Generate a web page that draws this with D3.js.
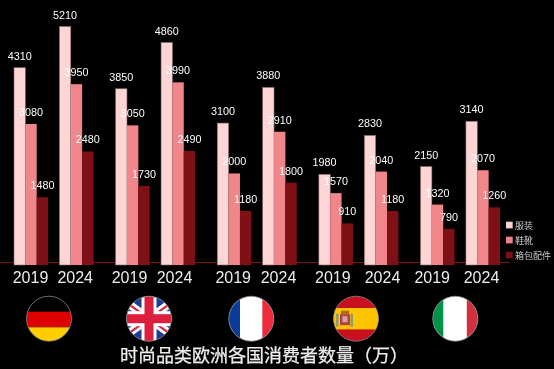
<!DOCTYPE html>
<html>
<head>
<meta charset="utf-8">
<script src="https://cdnjs.cloudflare.com/ajax/libs/d3/7.8.5/d3.min.js"></script>
<style>
  html, body { margin: 0; padding: 0; background: #000; overflow: hidden; }
  svg { display: block; }
  /* own layer, so the text gets plain grey antialiasing */
  .labels { opacity: 0.99; will-change: opacity; }
</style>
</head>
<body>
<div id="container"></div>
<script>
/* DATA */
const countries = ["德国", "英国", "法国", "西班牙", "意大利"];
const years = ["2019", "2024"];
const seriesNames = ["服装", "鞋靴", "箱包配件"];
// one row per country + year, in reading order
const clothing = [4310, 5210, 3850, 4860, 3100, 3880, 1980, 2830, 2150, 3140];
const shoes = [3080, 3950, 3050, 3990, 2000, 2910, 1570, 2040, 1320, 2070];
const bags = [1480, 2480, 1730, 2490, 1180, 1800, 910, 1180, 790, 1260];
const title = "时尚品类欧洲各国消费者数量（万）";

/* CONSTANTS */
const width = 554,
  height = 369,
  baseline = 265,
  flagR = 22.5,
  flagY = 318.7,
  sans = "'Liberation Sans', Arial, sans-serif",
  cjk = "'Noto Sans CJK SC', sans-serif";

const colors = ["#fdd5d5", "#f0858a", "#7f1015"];
// the year labels were placed by hand in the original, they drift from the bars
const yearLabelX = [30, 74.7, 129, 174, 232.7, 278, 332.3, 382, 431.7, 481];
const flagX = [49, 149, 251.3, 356, 455.3];

const svg = d3.select("#container")
  .append("svg")
  .attr("width", width)
  .attr("height", height)
  .style("background-color", "#000");

/* SCALES */
const countryScale = d3.scaleBand()
  .domain(countries)
  .range([14, 500])
  .paddingInner(0.2177);

const yearScale = d3.scaleBand()
  .domain(years)
  .range([0, countryScale.bandwidth()])
  .paddingInner(0.25);

const seriesScale = d3.scaleBand()
  .domain(seriesNames)
  .range([0, yearScale.bandwidth()]);

const yScale = d3.scaleLinear()
  .domain([0, 5210])
  .range([baseline, 26.5]);

const seriesValues = [clothing, shoes, bags];

const rows = [];
countries.forEach((c, i) => {
  years.forEach((y, j) => {
    seriesNames.forEach((s, k) => {
      rows.push({ country: c, year: y, series: s, k, value: seriesValues[k][i * 2 + j] });
    });
  });
});
const barX = d => countryScale(d.country) + yearScale(d.year) + seriesScale(d.series);

/* BASE LINE */
svg.append("line")
  .attr("x1", 0)
  .attr("x2", 510)
  .attr("y1", 262.5)
  .attr("y2", 262.5)
  .attr("stroke", "#7f1015")
  .attr("stroke-width", 1);

/* BARS */
svg.selectAll(".bar")
  .data(rows)
  .join("rect")
  .attr("class", "bar")
  .attr("x", barX)
  .attr("y", d => yScale(d.value))
  .attr("width", seriesScale.bandwidth())
  .attr("height", d => baseline - yScale(d.value))
  .attr("fill", d => colors[d.k])
  .attr("stroke", d => d.k === 0 ? "#8a6c6c" : "none")
  .attr("stroke-width", 0.6);

const labels = svg.append("g").attr("class", "labels");

/* VALUE LABELS */
labels.selectAll(".value")
  .data(rows)
  .join("text")
  .attr("class", "value")
  .attr("x", d => barX(d) + seriesScale.bandwidth() / 2)
  .attr("y", d => yScale(d.value) - 8)
  .attr("text-anchor", "middle")
  .attr("font-family", sans)
  .attr("font-size", 10.8)
  .attr("fill", "#fff")
  .text(d => d.value);

/* YEAR AXIS */
const labelScale = d3.scaleOrdinal()
  .domain(d3.range(yearLabelX.length))
  .range(yearLabelX);

const yearAxis = labels.append("g")
  .attr("class", "x-axis")
  .call(d3.axisBottom(labelScale).tickSize(0).tickFormat(i => years[i % 2]));
yearAxis.select(".domain").remove();
yearAxis.selectAll("text")
  .attr("y", 283)
  .attr("dy", 0)
  .attr("font-family", sans)
  .attr("font-size", 16)
  .attr("fill", "#f0f0f0");

/* LEGEND */
const legend = labels.selectAll(".legend")
  .data(seriesNames)
  .join("g")
  .attr("class", "legend")
  .attr("transform", (d, i) => `translate(506,${221.7 + i * 15})`);
legend.append("rect")
  .attr("width", 6.7)
  .attr("height", 6.7)
  .attr("fill", (d, i) => colors[i]);
legend.append("text")
  .attr("x", 9)
  .attr("y", 7)
  .attr("font-family", cjk)
  .attr("font-size", 9)
  .attr("fill", "#cfcfcf")
  .text(d => d);

/* FLAGS */
const defs = svg.append("defs");
const flags = svg.selectAll(".flag")
  .data(countries)
  .join("g")
  .attr("class", "flag")
  .attr("transform", (d, i) => `translate(${flagX[i]},${flagY})`);

flags.each(function (d, i) {
  defs.append("clipPath").attr("id", "clip" + i)
    .append("circle").attr("r", flagR);
});

const flagBody = flags.append("g").attr("clip-path", (d, i) => `url(#clip${i})`);
const stripe = (g, x, y, w, h, fill) => g.append("rect")
  .attr("x", x).attr("y", y).attr("width", w).attr("height", h).attr("fill", fill);
const R = flagR + 1;

// Germany
const de = flagBody.filter((d, i) => i === 0);
stripe(de, -R, -R, 2 * R, R - 7, "#000");
stripe(de, -R, -7, 2 * R, 15.6, "#dd0000");
stripe(de, -R, 8.6, 2 * R, R, "#ffce00");

// UK
const uk = flagBody.filter((d, i) => i === 1);
stripe(uk, -R, -R, 2 * R, 2 * R, "#1c3f94");
[[-R, -R * 0.72, R, R * 0.72], [-R, R * 0.72, R, -R * 0.72]].forEach(l => {
  uk.append("line")
    .attr("x1", l[0]).attr("y1", l[1]).attr("x2", l[2]).attr("y2", l[3])
    .attr("stroke", "#fff").attr("stroke-width", 8);
  uk.append("line")
    .attr("x1", l[0]).attr("y1", l[1]).attr("x2", l[2]).attr("y2", l[3])
    .attr("stroke", "#dc1f3c").attr("stroke-width", 2.2);
});
stripe(uk, -R, -7.5, 2 * R, 15, "#fff");
stripe(uk, -7.5, -R, 15, 2 * R, "#fff");
stripe(uk, -R, -4.5, 2 * R, 9, "#dc1f3c");
stripe(uk, -4.5, -R, 9, 2 * R, "#dc1f3c");

// France
const fr = flagBody.filter((d, i) => i === 2);
stripe(fr, -R, -R, 2 * R, 2 * R, "#fff");
stripe(fr, -R, -R, R - 11.3, 2 * R, "#0a3a9a");
stripe(fr, 11, -R, R, 2 * R, "#ef2b3d");

// Spain
const es = flagBody.filter((d, i) => i === 3);
stripe(es, -R, -R, 2 * R, 2 * R, "#c8101f");
stripe(es, -R, -10.7, 2 * R, 21.4, "#ffc400");
stripe(es, -20, -5, 2.5, 13, "#8f9a6e");
stripe(es, -5.5, -5, 2.5, 13, "#8f9a6e");
stripe(es, -15, -8, 8, 3.5, "#b5651d");
stripe(es, -16, -4.5, 10, 11, "#b0453c");
stripe(es, -13.5, -2.5, 5, 6, "#d8a0b0");

// Italy
const it = flagBody.filter((d, i) => i === 4);
stripe(it, -R, -R, 2 * R, 2 * R, "#fff");
stripe(it, -R, -R, R - 12, 2 * R, "#009246");
stripe(it, 11.5, -R, R, 2 * R, "#d2303f");

flags.append("circle")
  .attr("r", flagR)
  .attr("fill", "none")
  .attr("stroke", "#8a8a8a")
  .attr("stroke-width", 0.8);

/* TITLE */
labels.append("text")
  .attr("x", 120)
  .attr("y", 361.5)
  .attr("font-family", cjk)
  .attr("font-size", 18)
  .attr("fill", "#f2f2f2")
  .attr("stroke", "#f2f2f2")
  .attr("stroke-width", 0.25)
  .text(title);
</script>
</body>
</html>
